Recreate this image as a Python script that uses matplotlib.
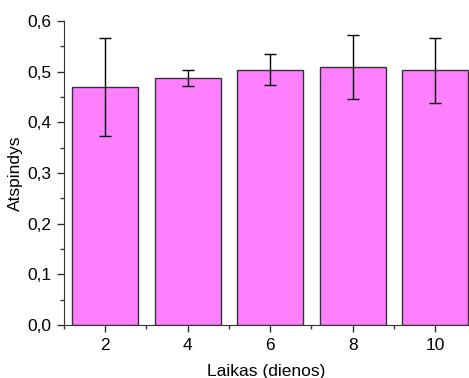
import numpy as np
import matplotlib.pyplot as plt
from matplotlib.ticker import MultipleLocator, FuncFormatter

days = [2, 4, 6, 8, 10]
values = [0.470, 0.488, 0.504, 0.509, 0.503]
errors = [0.097, 0.016, 0.031, 0.063, 0.064]

plt.rcParams['font.family'] = ['Liberation Sans', 'DejaVu Sans']
plt.rcParams['font.size'] = 12.5

fig = plt.figure(figsize=(4.69, 3.78), dpi=100)
ax = fig.add_axes([64/469, 53/378, 405/469, 304/378])

ax.bar(days, values, width=1.6, color='#ff80ff', edgecolor='#333333', linewidth=1.0)
ax.errorbar(days, values, yerr=errors, fmt='none', ecolor='black', elinewidth=1.0, capsize=4, capthick=1.0)

ax.set_xlim(1, 10.82)
ax.set_ylim(0, 0.6)
ax.set_xticks(days)
ax.xaxis.set_minor_locator(MultipleLocator(1))
ax.yaxis.set_major_locator(MultipleLocator(0.1))
ax.yaxis.set_minor_locator(MultipleLocator(0.05))
ax.yaxis.set_major_formatter(FuncFormatter(lambda v, p: f'{v:.1f}'.replace('.', ',')))

for s in ['top', 'right']:
    ax.spines[s].set_visible(False)
for s in ['left', 'bottom']:
    ax.spines[s].set_color('#333333')
ax.tick_params(which='major', direction='out', length=5, width=1, color='#333333', pad=4)
ax.tick_params(which='minor', direction='out', length=3, width=1, color='#333333')

ax.set_xlabel('Laikas (dienos)', labelpad=8)
ax.set_ylabel('Atspindys', labelpad=3)

plt.savefig('out.png', dpi=100)
